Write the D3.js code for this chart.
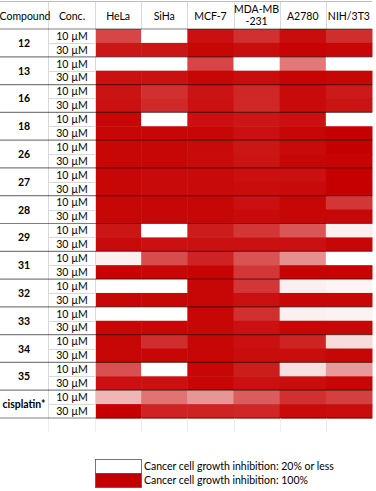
<!DOCTYPE html>
<html>
<head>
<meta charset="utf-8">
<script src="https://cdn.jsdelivr.net/npm/d3@7"></script>
<style>
  body { margin: 0; background: #fff; }
  svg text { font-family: Lato, "Open Sans", sans-serif; fill: #000; }
</style>
</head>
<body>
<script>
// data (estimated % inhibition, 20 = "20% or less")
var compounds = ['12', '13', '16', '18', '26', '27', '28', '29', '31', '32', '33', '34', '35', 'cisplatin*'];
var concs = ['10 µM', '30 µM'];
var cellLines = ['HeLa', 'SiHa', 'MCF-7', 'MDA-MB\n-231', 'A2780', 'NIH/3T3'];

// rows: HeLa, SiHa, MCF-7, MDA-MB-231, A2780, NIH/3T3
var inh10 = [
  [78, 20, 95, 85, 96, 86],
  [20, 20, 78, 20, 62, 20],
  [94, 85, 94, 88, 97, 92],
  [98, 20, 95, 93, 95, 20],
  [98, 98, 97, 93, 97, 100],
  [98, 97, 97, 95, 95, 100],
  [98, 98, 98, 95, 98, 83],
  [93, 20, 91, 83, 73, 25],
  [25, 76, 89, 74, 55, 20],
  [20, 20, 98, 83, 25, 23],
  [20, 20, 98, 85, 25, 24],
  [98, 86, 98, 95, 89, 31],
  [75, 20, 98, 91, 30, 52],
  [43, 64, 53, 71, 85, 80]
];
var inh30 = [
  [93, 93, 98, 96, 99, 98],
  [95, 95, 98, 96, 99, 98],
  [95, 87, 95, 88, 97, 94],
  [98, 98, 98, 95, 98, 100],
  [98, 98, 97, 94, 98, 99],
  [98, 97, 97, 96, 97, 100],
  [98, 98, 98, 97, 98, 98],
  [97, 95, 95, 95, 95, 98],
  [99, 98, 99, 83, 99, 99],
  [98, 98, 98, 95, 98, 98],
  [98, 98, 98, 95, 98, 98],
  [98, 98, 98, 96, 96, 98],
  [95, 95, 98, 95, 96, 98],
  [100, 89, 89, 88, 97, 96]
];
var legendLabels = ['Cancer cell growth inhibition: 20% or less', 'Cancer cell growth inhibition: 100%'];

var w = 376, h = 491;
var tableTop = 29, tableBottom = 418;
var x0 = 95, x1 = 372;

var svg = d3.select('body').append('svg')
  .attr('width', w)
  .attr('height', h);

// one band per row (compound x conc)
var rows = [];
compounds.forEach(function(c, i) {
  concs.forEach(function(k, j) {
    var vals = j == 0 ? inh10[i] : inh30[i];
    rows.push({ key: c + '|' + k, compound: c, conc: k, vals: vals });
  });
});

var yScale = d3.scaleBand()
  .domain(rows.map(function(d) { return d.key; }))
  .range([tableTop, tableBottom]);

var blockScale = d3.scaleBand()
  .domain(compounds)
  .range([tableTop, tableBottom]);

var xScale = d3.scaleBand()
  .domain(cellLines)
  .range([x0, x1]);

var color = d3.scaleLinear()
  .domain([20, 100])
  .range(['#ffffff', '#c60000']);

// cells
var cells = [];
rows.forEach(function(r) {
  r.vals.forEach(function(v, i) {
    cells.push({ row: r.key, col: cellLines[i], v: v });
  });
});

svg.append('g').selectAll('rect')
  .data(cells)
  .enter()
  .append('rect')
  .attr('x', function(d) { return xScale(d.col); })
  .attr('y', function(d) { return yScale(d.row); })
  .attr('width', xScale.bandwidth() + 0.5)
  .attr('height', yScale.bandwidth() + 0.5)
  .attr('fill', function(d) { return color(d.v); });

// light grid lines (header + conc column + below table)
var grid = svg.append('g').attr('stroke', '#d9d9d9').attr('stroke-width', 1);
var vx = [48, 95].concat(cellLines.slice(1).map(function(c) { return xScale(c); }));
vx.forEach(function(x) {
  grid.append('line')
    .attr('x1', Math.round(x) + 0.5).attr('x2', Math.round(x) + 0.5)
    .attr('y1', 2).attr('y2', tableTop);
});
[48, 95].forEach(function(x) {
  grid.append('line')
    .attr('x1', x + 0.5).attr('x2', x + 0.5)
    .attr('y1', tableTop).attr('y2', tableBottom);
});
vx.forEach(function(x) {
  var xx = Math.round(x) + 0.5;
  grid.append('line')
    .attr('x1', xx).attr('x2', xx)
    .attr('y1', tableBottom).attr('y2', 432)
    .attr('stroke', '#ececec');
});
rows.forEach(function(r) {
  if (r.conc == concs[1]) {
    var y = Math.round(yScale(r.key)) + 0.5;
    grid.append('line')
      .attr('x1', 48).attr('x2', 95)
      .attr('y1', y).attr('y2', y);
  }
});
grid.append('line')
  .attr('x1', 0).attr('x2', x1)
  .attr('y1', 1.5).attr('y2', 1.5)
  .attr('stroke', '#bdbdbd');

// dark separators between compounds
var sep = svg.append('g').attr('stroke', 'rgba(0,0,0,0.5)').attr('stroke-width', 1.2);
compounds.forEach(function(c) {
  var y = blockScale(c);
  sep.append('line').attr('x1', 0).attr('x2', x1).attr('y1', y).attr('y2', y);
});
sep.append('line').attr('x1', 0).attr('x2', x1).attr('y1', tableBottom).attr('y2', tableBottom);

// header
var head = svg.append('g').attr('font-size', 10.5);
head.append('text').attr('x', 25).attr('y', 20).attr('text-anchor', 'middle').text('Compound');
head.append('text').attr('x', 72).attr('y', 20).attr('text-anchor', 'middle').text('Conc.');
cellLines.forEach(function(c) {
  var parts = c.split('\n');
  var cx = xScale(c) + xScale.bandwidth() / 2;
  var t = head.append('text').attr('text-anchor', 'middle');
  parts.forEach(function(p, i) {
    t.append('tspan')
      .attr('x', cx)
      .attr('y', parts.length == 1 ? 20 : 13 + i * 12)
      .text(p);
  });
});

// compound labels
svg.append('g').selectAll('text')
  .data(compounds)
  .enter()
  .append('text')
  .attr('x', 24)
  .attr('y', function(d) { return blockScale(d) + blockScale.bandwidth() / 2 + 4; })
  .attr('text-anchor', 'middle')
  .attr('font-size', 10.5)
  .attr('font-weight', 'bold')
  .text(function(d) { return d; });

// conc labels
svg.append('g').selectAll('text')
  .data(rows)
  .enter()
  .append('text')
  .attr('x', 72)
  .attr('y', function(d) { return yScale(d.key) + yScale.bandwidth() / 2 + 3.8; })
  .attr('text-anchor', 'middle')
  .attr('font-size', 10.5)
  .text(function(d) { return d.conc; });

// legend
var legend = svg.append('g');
['#ffffff', '#c00000'].forEach(function(fill, i) {
  legend.append('rect')
    .attr('x', 95.5).attr('y', 459.5 + i * 14)
    .attr('width', 46).attr('height', 14)
    .attr('fill', fill)
    .attr('stroke', '#555')
    .attr('stroke-width', 0.8);
  legend.append('text')
    .attr('x', 144)
    .attr('y', 470 + i * 14)
    .attr('font-size', 10.5)
    .text(legendLabels[i]);
});
</script>
</body>
</html>
